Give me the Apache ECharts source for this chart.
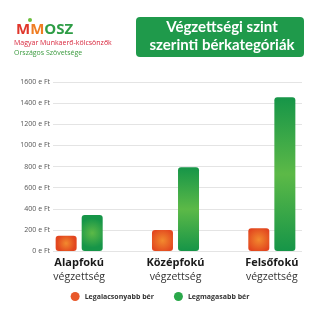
<!DOCTYPE html>
<html><head><meta charset="utf-8">
<script src="https://cdn.jsdelivr.net/npm/echarts@6/dist/echarts.min.js"></script>
<style>html,body{margin:0;padding:0;background:#fff}#c{width:320px;height:320px}</style>
</head><body><div id="c"></div>
<script>
var categories = ['Alapfokú', 'Középfokú', 'Felsőfokú'];
var categorySub = 'végzettség';
var seriesNames = ['Legalacsonyabb bér', 'Legmagasabb bér'];
var lowestPay = [145, 198, 215];
var highestPay = [340, 792, 1455];
var yTicks = [0, 200, 400, 600, 800, 1000, 1200, 1400, 1600];
var titleLines = ['Végzettségi szint', 'szerinti bérkategóriák'];

var chart = echarts.init(document.getElementById('c'), null, {renderer: 'canvas'});
var orangeFill = {type: 'radial', x: 0.5, y: 0.5, r: 0.6, colorStops: [
  {offset: 0, color: '#f28a2e'}, {offset: 1, color: '#e2461f'}]};
var greenFill = {type: 'linear', x: 0, y: 0, x2: 0, y2: 1, colorStops: [
  {offset: 0, color: '#169548'}, {offset: 0.5, color: '#5cb947'}, {offset: 1, color: '#169548'}]};
var greenFillSmall = {type: 'radial', x: 0.5, y: 0.5, r: 0.7, colorStops: [
  {offset: 0, color: '#5cb947'}, {offset: 1, color: '#169548'}]};

chart.setOption({
  animation: false,
  backgroundColor: '#ffffff',
  grid: [
    {left: 53, right: 18, top: 82, bottom: 69},
    {left: 31, right: 0, top: 82, bottom: 69}
  ],
  xAxis: [
    {type: 'category', gridIndex: 0, data: categories, show: false},
    {type: 'category', gridIndex: 1, data: categories,
      axisLine: {show: false}, axisTick: {show: false},
      axisLabel: {margin: 5, interval: 0, lineHeight: 14,
        formatter: function (v) { return '{b|' + v + '}\n{n|' + categorySub + '}'; },
        rich: {
          b: {fontFamily: 'Open Sans', fontWeight: 'bold', fontSize: 11, color: '#1a1a1a', lineHeight: 14},
          n: {fontFamily: 'Open Sans', fontSize: 10.5, color: '#333', lineHeight: 14}
        }}}
  ],
  yAxis: [
    {type: 'value', gridIndex: 0, min: yTicks[0], max: yTicks[yTicks.length - 1], interval: yTicks[1] - yTicks[0],
      axisLine: {show: false}, axisTick: {show: false},
      splitLine: {lineStyle: {color: '#e4e4e4', width: 1}},
      axisLabel: {margin: 3, fontFamily: 'Open Sans', fontSize: 7, color: '#555',
        formatter: function (v) { return v + ' e Ft'; }}},
    {type: 'value', gridIndex: 1, min: yTicks[0], max: yTicks[yTicks.length - 1], interval: yTicks[1] - yTicks[0], show: false}
  ],
  legend: {
    bottom: 14, left: 'center', itemGap: 20, itemWidth: 9, itemHeight: 9, icon: 'circle',
    textStyle: {fontFamily: 'Open Sans', fontSize: 7, fontWeight: 'bold', color: '#333'},
    data: [
      {name: seriesNames[0], itemStyle: {color: '#e8582a'}},
      {name: seriesNames[1], itemStyle: {color: '#2aa84a'}}
    ]
  },
  series: [
    {name: seriesNames[0], type: 'bar', xAxisIndex: 1, yAxisIndex: 1, data: lowestPay,
      barWidth: 21, barGap: '24%',
      itemStyle: {color: orangeFill, borderRadius: 3}},
    {name: seriesNames[1], type: 'bar', xAxisIndex: 1, yAxisIndex: 1,
      data: highestPay.map(function (v, i) { return i === 0 ? {value: v, itemStyle: {color: greenFillSmall}} : v; }),
      barWidth: 21,
      itemStyle: {color: greenFill, borderRadius: 3}}
  ],
  graphic: [
    {type: 'rect', left: 136, top: 17, shape: {width: 168, height: 40, r: 4}, style: {fill: '#1f9a4b'}},
    {type: 'text', x: 222, y: 27, style: {text: titleLines[0], fill: '#fff', font: 'bold 15px Lato', textAlign: 'center', textVerticalAlign: 'middle'}},
    {type: 'text', x: 222, y: 45, style: {text: titleLines[1], fill: '#fff', font: 'bold 15px Lato', textAlign: 'center', textVerticalAlign: 'middle'}},
    {type: 'text', x: 16, y: 30, style: {
      text: '{r|M}{o|M}{g|OSZ}', textVerticalAlign: 'middle',
      rich: {
        r: {fill: '#e0362b', font: 'bold 15px "Open Sans"'},
        o: {fill: '#ef7d22', font: 'bold 15px "Open Sans"'},
        g: {fill: '#2e9d46', font: 'bold 15px "Open Sans"'}
      }}},
    {type: 'circle', shape: {cx: 30, cy: 20, r: 2}, style: {fill: '#6cbf3f'}},
    {type: 'text', x: 14, y: 43, style: {text: 'Magyar Munkaerő-kölcsönzők', fill: '#d8263c', font: '7px "Open Sans"', textVerticalAlign: 'middle'}},
    {type: 'text', x: 14, y: 53, style: {text: 'Országos Szövetsége', fill: '#3a9a3e', font: '7px "Open Sans"', textVerticalAlign: 'middle'}}
  ]
});
</script></body></html>
